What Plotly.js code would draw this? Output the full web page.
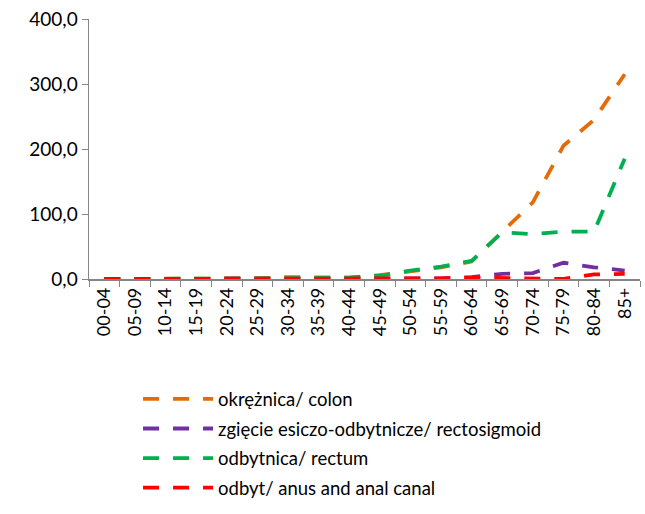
<!DOCTYPE html>
<html>
<head>
<meta charset="utf-8">
<script src="https://cdn.plot.ly/plotly-3.0.1.min.js"></script>
<style>html,body{margin:0;padding:0;background:#fff;}#chart{width:645px;height:514px;}</style>
</head>
<body>
<div id="chart"></div>
<script>
const ageGroups = ["00-04","05-09","10-14","15-19","20-24","25-29","30-34","35-39","40-44","45-49","50-54","55-59","60-64","65-69","70-74","75-79","80-84","85+"];
const colon = [0,0,0,0,0,1,3,3,2,6,12,18,27,72,118,205,245,315];
const rectosigmoid = [0,0,0,0,0,0,1,1,1,1,1,1,3,8,9,25,18,13];
const rectum = [0,0,0,0,0,0.5,1,1.5,2,5,13,19,28,72,69,73,73,185];
const anus = [0,0,0,0,0,0,0,0,0,0,1,1,2,1,0,0,7,8];
const seriesNames = ["okrężnica/ colon","zgięcie esiczo-odbytnicze/ rectosigmoid","odbytnica/ rectum","odbyt/ anus and anal canal"];
const seriesColors = ["#E36C09","#7030A0","#00B050","#FF0000"];
const seriesData = [colon, rectosigmoid, rectum, anus];

const font = "Lato, 'Open Sans', sans-serif";
const traces = seriesData.map((d, i) => ({
  x: ageGroups, y: d, type: "scatter", mode: "lines",
  name: seriesNames[i], legendgroup: "g" + i,
  line: {color: seriesColors[i], width: 3.8, dash: "16px,14px"}
}));

const layout = {
  width: 645, height: 514,
  margin: {l: 89, r: 5, t: 19, b: 235},
  paper_bgcolor: "#fff", plot_bgcolor: "#fff",
  font: {family: font, size: 19, color: "#000"},
  showlegend: true,
  legend: {x: 0.089, xanchor: "left", y: -0.39, yanchor: "top", orientation: "v",
           font: {family: font, size: 18.5, color: "#000"}, itemwidth: 70,
           tracegroupgap: 2.5, traceorder: "grouped"},
  xaxis: {type: "category", tickson: "boundaries", ticks: "outside", ticklen: 6,
          tickcolor: "#868686", showline: true, linecolor: "#868686", linewidth: 1.5,
          showgrid: false, zeroline: false, tickangle: -90,
          tickfont: {family: font, size: 18, color: "#000"}, range: [-0.5, 17.5]},
  yaxis: {range: [0, 400], tickvals: [0,100,200,300,400],
          ticktext: ["0,0","100,0","200,0","300,0","400,0"],
          ticks: "outside", ticklen: 6, tickcolor: "#868686", showline: true,
          linecolor: "#868686", linewidth: 1.5, showgrid: false, zeroline: false,
          tickfont: {family: font, size: 19, color: "#000"}}
};
Plotly.newPlot("chart", traces, layout, {displayModeBar: false, staticPlot: true});
</script>
</body>
</html>
